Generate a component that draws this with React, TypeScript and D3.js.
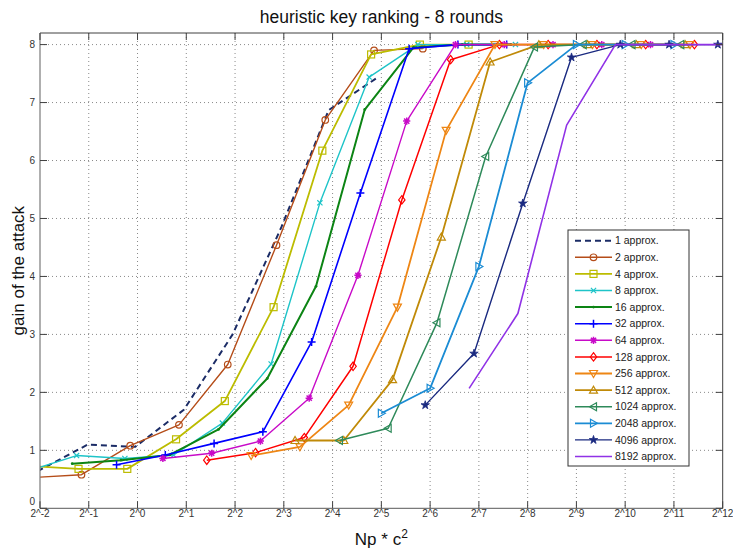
import React from "react";
import * as d3 from "d3";

// x values are log2(Np * c^2); y values are the gain of the attack
const labels = [
  "1 approx.", "2 approx.", "4 approx.", "8 approx.", "16 approx.", "32 approx.", "64 approx.",
  "128 approx.", "256 approx.", "512 approx.", "1024 approx.", "2048 approx.", "4096 approx.", "8192 approx.",
];

const x1 = [-2.05, -1.02, -0.05, 0.95, 1.95, 2.95, 3.92, 4.9];
const y1 = [0.64, 1.1, 1.06, 1.7, 3.0, 4.85, 6.87, 7.42];

const x2 = [-2.15, -1.15, -0.15, 0.85, 1.85, 2.85, 3.85, 4.85, 5.85];
const y2 = [0.53, 0.58, 1.08, 1.44, 2.48, 4.54, 6.7, 7.9, 7.93];

const x4 = [-2.21, -1.21, -0.21, 0.79, 1.79, 2.79, 3.79, 4.79, 5.79, 6.79];
const y4 = [0.73, 0.68, 0.68, 1.19, 1.85, 3.47, 6.17, 7.83, 8, 8];

const x8 = [-2.25, -1.25, -0.26, 0.74, 1.74, 2.74, 3.74, 4.75, 5.75, 6.75, 7.75];
const y8 = [0.64, 0.91, 0.86, 0.92, 1.47, 2.49, 5.27, 7.44, 8, 8, 8];

const x16 = [-1.34, -0.34, 0.66, 1.66, 2.66, 3.66, 4.66, 5.66, 6.66, 7.66];
const y16 = [0.77, 0.83, 0.92, 1.36, 2.24, 3.83, 6.88, 7.95, 8, 8];

const x32 = [-0.43, 0.57, 1.57, 2.57, 3.57, 4.57, 5.57, 6.57, 7.57];
const y32 = [0.75, 0.92, 1.12, 1.32, 2.87, 5.44, 7.93, 8, 8];

const x64 = [0.52, 1.52, 2.52, 3.52, 4.52, 5.52, 6.52, 7.52, 8.52, 9.52, 10.52];
const y64 = [0.86, 0.95, 1.16, 1.9, 4.02, 6.68, 8, 8, 8, 8, 8];

const x128 = [1.42, 2.42, 3.42, 4.42, 5.42, 6.42, 7.42, 8.42, 9.42, 10.42, 11.42];
const y128 = [0.83, 0.96, 1.22, 2.45, 5.32, 7.74, 8, 8, 8, 8, 8];

const x256 = [2.33, 3.33, 4.33, 5.33, 6.33, 7.33, 8.33, 9.33, 10.33, 11.33];
const y256 = [0.91, 1.06, 1.78, 3.47, 6.52, 8, 8, 8, 8, 8];

const x512 = [3.23, 4.23, 5.23, 6.23, 7.23, 8.23, 9.23, 10.23, 11.23];
const y512 = [1.17, 1.17, 2.22, 4.68, 7.7, 8, 8, 8, 8];

const x1024 = [4.14, 5.14, 6.14, 7.14, 8.14, 9.14, 10.14, 11.14];
const y1024 = [1.17, 1.38, 3.2, 6.07, 7.96, 8, 8, 8];

const x2048 = [5.0, 6.0, 7.0, 8.0, 9.0, 10.0, 11.0];
const y2048 = [1.64, 2.07, 4.17, 7.34, 8, 8, 8];

const x4096 = [5.9, 6.9, 7.9, 8.9, 9.9, 10.9, 11.9];
const y4096 = [1.78, 2.67, 5.26, 7.78, 8, 8, 8];

const x8192 = [6.8, 7.8, 8.8, 9.8, 10.8, 11.8, 12.8];
const y8192 = [2.07, 3.36, 6.61, 8, 8, 8, 8];

const xTickExps = [-2, -1, 0, 1, 2, 3, 4, 5, 6, 7, 8, 9, 10, 11, 12];
const yTicks = [0, 1, 2, 3, 4, 5, 6, 7, 8];

type Marker =
  | "none" | "circle" | "square" | "x" | "point" | "plus" | "asterisk" | "diamond"
  | "tdown" | "tup" | "tleft" | "tright" | "pentagram";

interface Series {
  label: string;
  xs: number[];
  ys: number[];
  color: string;
  marker: Marker;
  width: number;
  dash?: string;
}

const series: Series[] = [
  { label: labels[0], xs: x1, ys: y1, color: "#1b2c66", marker: "none", width: 2, dash: "6,4" },
  { label: labels[1], xs: x2, ys: y2, color: "#b54d19", marker: "circle", width: 1.4 },
  { label: labels[2], xs: x4, ys: y4, color: "#bcbc00", marker: "square", width: 1.8 },
  { label: labels[3], xs: x8, ys: y8, color: "#1ec4c8", marker: "x", width: 1.4 },
  { label: labels[4], xs: x16, ys: y16, color: "#0c8414", marker: "point", width: 2 },
  { label: labels[5], xs: x32, ys: y32, color: "#0000ff", marker: "plus", width: 1.6 },
  { label: labels[6], xs: x64, ys: y64, color: "#c80ac8", marker: "asterisk", width: 1.4 },
  { label: labels[7], xs: x128, ys: y128, color: "#ff0000", marker: "diamond", width: 1.5 },
  { label: labels[8], xs: x256, ys: y256, color: "#ee8614", marker: "tdown", width: 1.8 },
  { label: labels[9], xs: x512, ys: y512, color: "#c08a08", marker: "tup", width: 1.8 },
  { label: labels[10], xs: x1024, ys: y1024, color: "#2e8a5a", marker: "tleft", width: 1.5 },
  { label: labels[11], xs: x2048, ys: y2048, color: "#1b8cd4", marker: "tright", width: 1.8 },
  { label: labels[12], xs: x4096, ys: y4096, color: "#1a2a80", marker: "pentagram", width: 1.4 },
  { label: labels[13], xs: x8192, ys: y8192, color: "#9032e6", marker: "none", width: 1.6 },
];

const W = 733;
const H = 548;
const L = 40;
const R = 722.7;
const T = 33;
const B = 508.3;

const xScale = d3.scaleLog().base(2).domain([Math.pow(2, -2), Math.pow(2, 12)]).range([L, R]);
const yScale = d3.scaleLinear().domain([0, 8.2]).range([B, T]);

const FONT = "'Liberation Sans', Arial, sans-serif";

function MarkerShape({ type, x, y, color }: { type: Marker; x: number; y: number; color: string }) {
  const sw = 1.2;
  const common = { stroke: color, strokeWidth: sw, fill: "none" };
  switch (type) {
    case "circle":
      return <circle cx={x} cy={y} r={3.3} {...common} />;
    case "square":
      return <rect x={x - 3.5} y={y - 3.5} width={7} height={7} {...common} />;
    case "x":
      return <path d={`M${x - 2.6},${y - 2.6}L${x + 2.6},${y + 2.6}M${x - 2.6},${y + 2.6}L${x + 2.6},${y - 2.6}`} {...common} />;
    case "point":
      return <circle cx={x} cy={y} r={1.4} fill={color} />;
    case "plus":
      return <path d={`M${x - 4},${y}L${x + 4},${y}M${x},${y - 4}L${x},${y + 4}`} {...common} strokeWidth={1.5} />;
    case "asterisk":
      return (
        <path
          d={`M${x - 3.6},${y}L${x + 3.6},${y}M${x},${y - 3.6}L${x},${y + 3.6}M${x - 2.6},${y - 2.6}L${x + 2.6},${y + 2.6}M${x - 2.6},${y + 2.6}L${x + 2.6},${y - 2.6}`}
          {...common}
          strokeWidth={1.5}
        />
      );
    case "diamond":
      return <path d={`M${x},${y - 4.2}L${x + 3.2},${y}L${x},${y + 4.2}L${x - 3.2},${y}Z`} {...common} />;
    case "tdown":
      return <path d={`M${x - 4},${y - 3}L${x + 4},${y - 3}L${x},${y + 4}Z`} {...common} />;
    case "tup":
      return <path d={`M${x - 4},${y + 3}L${x + 4},${y + 3}L${x},${y - 4}Z`} {...common} />;
    case "tleft":
      return <path d={`M${x + 3},${y - 4}L${x + 3},${y + 4}L${x - 4},${y}Z`} {...common} />;
    case "tright":
      return <path d={`M${x - 3},${y - 4}L${x - 3},${y + 4}L${x + 4},${y}Z`} {...common} />;
    case "pentagram": {
      const p = d3.symbol().type(d3.symbolStar).size(22)();
      return <path d={p || ""} transform={`translate(${x},${y})`} fill={color} stroke={color} strokeWidth={0.8} />;
    }
    default:
      return null;
  }
}

export default function App() {
  const line = d3
    .line<[number, number]>()
    .x((d) => xScale(Math.pow(2, d[0])))
    .y((d) => yScale(d[1]));

  const legendX = 568;
  const legendY = 230;
  const legendW = 121;
  const legendH = 236;
  const rowH = 16.6;
  const firstRow = 240.7;

  return (
    <svg
      width={W}
      height={H}
      viewBox={`0 0 ${W} ${H}`}
      style={{ position: "absolute", left: 0, top: 0, background: "#fff" }}
    >
      <defs>
        <clipPath id="plot-clip">
          <rect x={L} y={T} width={R - L} height={B - T} />
        </clipPath>
      </defs>
      <rect x={0} y={0} width={W} height={H} fill="#fff" />

      {/* grid */}
      <g stroke="#8a8a8a" strokeWidth={1} strokeDasharray="1,3">
        {xTickExps.slice(1, -1).map((e) => (
          <line key={`gx${e}`} x1={xScale(Math.pow(2, e))} x2={xScale(Math.pow(2, e))} y1={T} y2={B} />
        ))}
        {yTicks.slice(1).map((v) => (
          <line key={`gy${v}`} x1={L} x2={R} y1={yScale(v)} y2={yScale(v)} />
        ))}
      </g>

      {/* series */}
      <g clipPath="url(#plot-clip)">
        {series.map((s) => {
          const pts = s.xs.map((x, i) => [x, s.ys[i]] as [number, number]);
          return (
            <g key={s.label}>
              <path
                d={line(pts) || ""}
                fill="none"
                stroke={s.color}
                strokeWidth={s.width}
                strokeDasharray={s.dash}
                strokeLinejoin="round"
              />
              {s.marker !== "none" &&
                pts.map((p, i) => (
                  <MarkerShape
                    key={i}
                    type={s.marker}
                    x={xScale(Math.pow(2, p[0]))}
                    y={yScale(p[1])}
                    color={s.color}
                  />
                ))}
            </g>
          );
        })}
      </g>

      {/* axes box */}
      <line x1={L} x2={R} y1={T} y2={T} stroke="#404040" strokeWidth={1} />
      <line x1={R} x2={R} y1={T} y2={B} stroke="#404040" strokeWidth={1} />
      <line x1={L} x2={R} y1={B} y2={B} stroke="#7a7a7a" strokeWidth={1.2} />
      <line x1={L} x2={L} y1={T} y2={B} stroke="#7a7a7a" strokeWidth={1.2} />

      {/* ticks */}
      <g stroke="#404040" strokeWidth={1}>
        {xTickExps.map((e) => {
          const x = xScale(Math.pow(2, e));
          return (
            <g key={`tx${e}`}>
              <line x1={x} x2={x} y1={B} y2={B - 7} />
              <line x1={x} x2={x} y1={T} y2={T + 7} />
            </g>
          );
        })}
        {yTicks.map((v) => {
          const y = yScale(v);
          return (
            <g key={`ty${v}`}>
              <line x1={L} x2={L + 7} y1={y} y2={y} />
              <line x1={R} x2={R - 7} y1={y} y2={y} />
            </g>
          );
        })}
      </g>

      {/* tick labels */}
      <g fontFamily={FONT} fontSize={10} fill="#333">
        {xTickExps.map((e) => (
          <text key={`lx${e}`} x={xScale(Math.pow(2, e))} y={B + 9} textAnchor="middle">
            {`2^${e}`}
          </text>
        ))}
        {yTicks.map((v) => (
          <text key={`ly${v}`} x={L - 5} y={yScale(v) + (v === 0 ? -3 : 3.5)} textAnchor="end">
            {v}
          </text>
        ))}
      </g>

      {/* title and axis labels */}
      <text x={(L + R) / 2} y={23} textAnchor="middle" fontFamily={FONT} fontSize={17.5} fill="#111">
        heuristic key ranking - 8 rounds
      </text>
      <text x={(L + R) / 2} y={545} textAnchor="middle" fontFamily={FONT} fontSize={17} fill="#111">
        Np * c<tspan dy={-7} fontSize={12}>2</tspan>
      </text>
      <text
        transform={`translate(24,${(T + B) / 2}) rotate(-90)`}
        textAnchor="middle"
        fontFamily={FONT}
        fontSize={17}
        fill="#111"
      >
        gain of the attack
      </text>

      {/* legend */}
      <rect x={legendX} y={legendY} width={legendW} height={legendH} fill="#fff" stroke="#333" strokeWidth={1} />
      {series.map((s, i) => {
        const y = firstRow + i * rowH;
        return (
          <g key={`leg${i}`}>
            <line
              x1={575}
              x2={612}
              y1={y}
              y2={y}
              stroke={s.color}
              strokeWidth={s.width}
              strokeDasharray={s.dash}
            />
            <MarkerShape type={s.marker} x={593.5} y={y} color={s.color} />
            <text x={615} y={y + 3.6} fontFamily={FONT} fontSize={10.5} fill="#222">
              {s.label}
            </text>
          </g>
        );
      })}
    </svg>
  );
}
